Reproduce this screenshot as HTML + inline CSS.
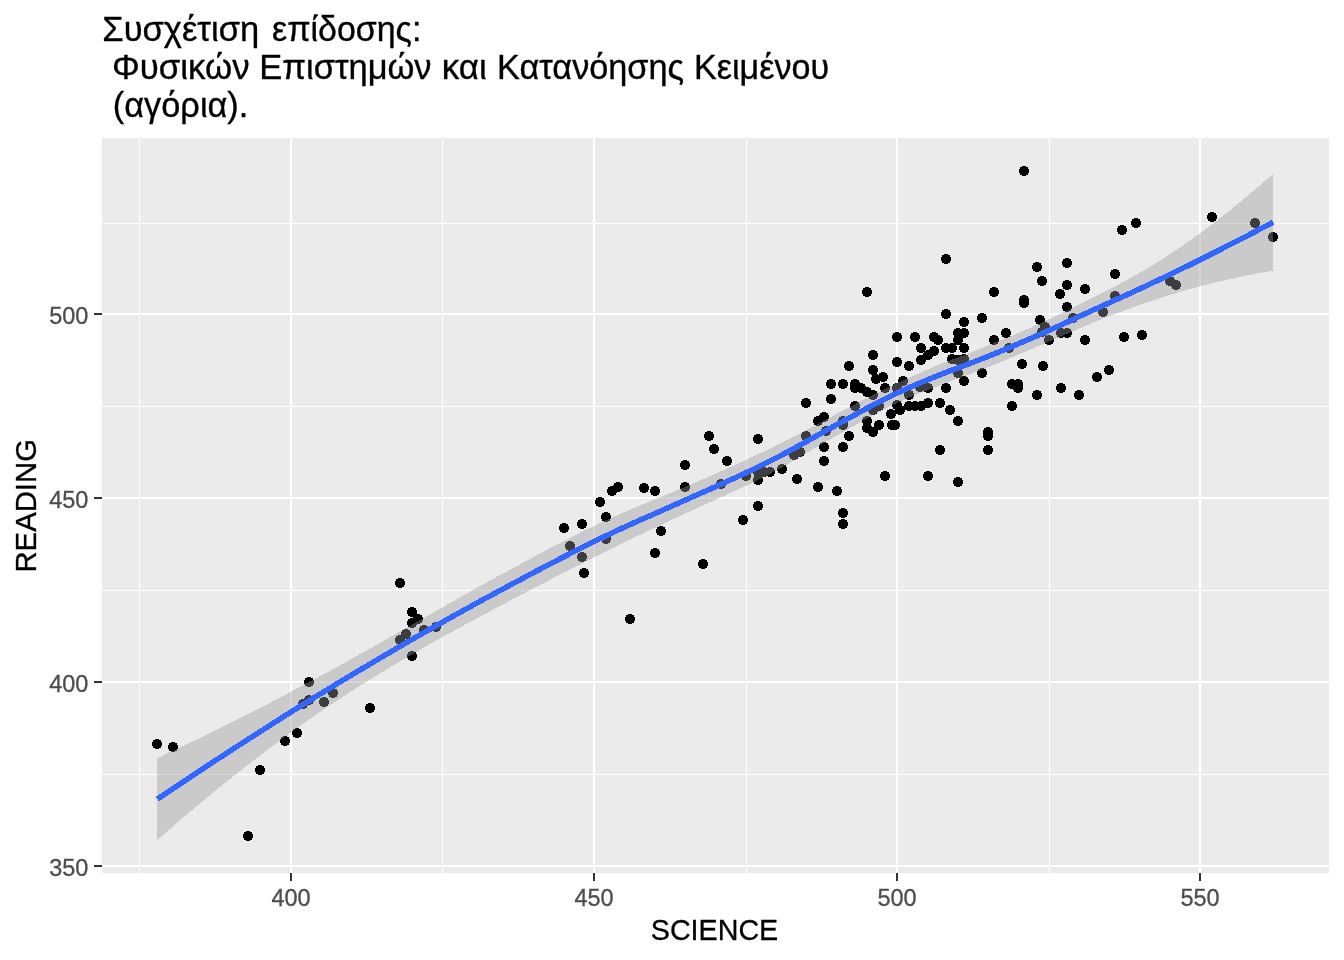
<!DOCTYPE html>
<html lang="el"><head><meta charset="utf-8"><title>Συσχέτιση επίδοσης</title>
<style>
html,body{margin:0;padding:0;background:#fff;}
body{width:1344px;height:960px;overflow:hidden;}
svg{display:block;}
text{font-family:"Liberation Sans",Arial,sans-serif;}
.tk{font-size:23.47px;fill:#4D4D4D;stroke:#4D4D4D;stroke-width:0.3px;}
.ttl{font-size:35.2px;fill:#000;stroke:#000;stroke-width:0.35px;}
.ax{font-size:29.33px;fill:#000;stroke:#000;stroke-width:0.3px;}
</style></head><body>
<svg width="1344" height="960" viewBox="0 0 1344 960">
<rect x="0" y="0" width="1344" height="960" fill="#fff"/>
<g shape-rendering="crispEdges">
<rect x="102" y="138" width="1227" height="735" fill="#EBEBEB"/>
<rect x="102" y="223" width="1227" height="1" fill="#fff"/>
<rect x="102" y="406" width="1227" height="1" fill="#fff"/>
<rect x="102" y="590" width="1227" height="1" fill="#fff"/>
<rect x="102" y="774" width="1227" height="1" fill="#fff"/>
<rect x="139" y="138" width="1" height="735" fill="#fff"/>
<rect x="442" y="138" width="1" height="735" fill="#fff"/>
<rect x="746" y="138" width="1" height="735" fill="#fff"/>
<rect x="1049" y="138" width="1" height="735" fill="#fff"/>
<rect x="102" y="313" width="1227" height="2" fill="#fff"/>
<rect x="102" y="497" width="1227" height="2" fill="#fff"/>
<rect x="102" y="681" width="1227" height="2" fill="#fff"/>
<rect x="102" y="865" width="1227" height="2" fill="#fff"/>
<rect x="290" y="138" width="2" height="735" fill="#fff"/>
<rect x="593" y="138" width="2" height="735" fill="#fff"/>
<rect x="896" y="138" width="2" height="735" fill="#fff"/>
<rect x="1199" y="138" width="2" height="735" fill="#fff"/>
<g fill="#000">
<circle cx="157" cy="744" r="5"/><circle cx="173" cy="747" r="5"/><circle cx="248" cy="836" r="5"/><circle cx="260" cy="770" r="5"/><circle cx="285" cy="741" r="5"/><circle cx="297" cy="733" r="5"/><circle cx="309" cy="682" r="5"/><circle cx="303" cy="704" r="5"/><circle cx="309" cy="700" r="5"/><circle cx="324" cy="702" r="5"/><circle cx="333" cy="693" r="5"/><circle cx="370" cy="708" r="5"/><circle cx="412" cy="656" r="5"/><circle cx="400" cy="640" r="5"/><circle cx="400" cy="583" r="5"/><circle cx="412" cy="612" r="5"/><circle cx="418" cy="619" r="5"/><circle cx="412" cy="623" r="5"/><circle cx="424" cy="630" r="5"/><circle cx="436" cy="627" r="5"/><circle cx="406" cy="634" r="5"/><circle cx="564" cy="528" r="5"/><circle cx="582" cy="524" r="5"/><circle cx="570" cy="546" r="5"/><circle cx="582" cy="557" r="5"/><circle cx="584" cy="573" r="5"/><circle cx="600" cy="502" r="5"/><circle cx="606" cy="517" r="5"/><circle cx="606" cy="539" r="5"/><circle cx="612" cy="491" r="5"/><circle cx="618" cy="487" r="5"/><circle cx="644" cy="488" r="5"/><circle cx="655" cy="491" r="5"/><circle cx="661" cy="531" r="5"/><circle cx="655" cy="553" r="5"/><circle cx="630" cy="619" r="5"/><circle cx="685" cy="487" r="5"/><circle cx="703" cy="564" r="5"/><circle cx="685" cy="465" r="5"/><circle cx="709" cy="436" r="5"/><circle cx="714" cy="449" r="5"/><circle cx="727" cy="461" r="5"/><circle cx="721" cy="484" r="5"/><circle cx="758" cy="439" r="5"/><circle cx="746" cy="476" r="5"/><circle cx="758" cy="480" r="5"/><circle cx="758" cy="472" r="5"/><circle cx="764" cy="472" r="5"/><circle cx="770" cy="472" r="5"/><circle cx="782" cy="469" r="5"/><circle cx="797" cy="479" r="5"/><circle cx="758" cy="506" r="5"/><circle cx="743" cy="520" r="5"/><circle cx="806" cy="403" r="5"/><circle cx="831" cy="384" r="5"/><circle cx="831" cy="399" r="5"/><circle cx="843" cy="384" r="5"/><circle cx="824" cy="417" r="5"/><circle cx="818" cy="421" r="5"/><circle cx="806" cy="436" r="5"/><circle cx="826" cy="431" r="5"/><circle cx="843" cy="421" r="5"/><circle cx="843" cy="425" r="5"/><circle cx="824" cy="447" r="5"/><circle cx="843" cy="447" r="5"/><circle cx="824" cy="461" r="5"/><circle cx="794" cy="455" r="5"/><circle cx="800" cy="452" r="5"/><circle cx="818" cy="487" r="5"/><circle cx="837" cy="491" r="5"/><circle cx="843" cy="513" r="5"/><circle cx="843" cy="524" r="5"/><circle cx="849" cy="436" r="5"/><circle cx="855" cy="406" r="5"/><circle cx="855" cy="384" r="5"/><circle cx="855" cy="388" r="5"/><circle cx="861" cy="388" r="5"/><circle cx="867" cy="392" r="5"/><circle cx="873" cy="395" r="5"/><circle cx="876" cy="379" r="5"/><circle cx="883" cy="377" r="5"/><circle cx="885" cy="388" r="5"/><circle cx="903" cy="381" r="5"/><circle cx="897" cy="388" r="5"/><circle cx="909" cy="395" r="5"/><circle cx="920" cy="387" r="5"/><circle cx="928" cy="388" r="5"/><circle cx="946" cy="388" r="5"/><circle cx="958" cy="373" r="5"/><circle cx="964" cy="381" r="5"/><circle cx="873" cy="410" r="5"/><circle cx="879" cy="406" r="5"/><circle cx="867" cy="421" r="5"/><circle cx="867" cy="428" r="5"/><circle cx="873" cy="432" r="5"/><circle cx="879" cy="425" r="5"/><circle cx="891" cy="414" r="5"/><circle cx="892" cy="425" r="5"/><circle cx="895" cy="425" r="5"/><circle cx="897" cy="405" r="5"/><circle cx="900" cy="410" r="5"/><circle cx="909" cy="406" r="5"/><circle cx="915" cy="406" r="5"/><circle cx="921" cy="406" r="5"/><circle cx="928" cy="403" r="5"/><circle cx="940" cy="403" r="5"/><circle cx="950" cy="410" r="5"/><circle cx="958" cy="421" r="5"/><circle cx="940" cy="450" r="5"/><circle cx="885" cy="476" r="5"/><circle cx="928" cy="476" r="5"/><circle cx="958" cy="482" r="5"/><circle cx="988" cy="450" r="5"/><circle cx="988" cy="432" r="5"/><circle cx="988" cy="436" r="5"/><circle cx="867" cy="292" r="5"/><circle cx="946" cy="314" r="5"/><circle cx="964" cy="322" r="5"/><circle cx="897" cy="337" r="5"/><circle cx="915" cy="337" r="5"/><circle cx="934" cy="337" r="5"/><circle cx="938" cy="340" r="5"/><circle cx="958" cy="333" r="5"/><circle cx="964" cy="333" r="5"/><circle cx="958" cy="340" r="5"/><circle cx="964" cy="348" r="5"/><circle cx="946" cy="348" r="5"/><circle cx="952" cy="348" r="5"/><circle cx="921" cy="348" r="5"/><circle cx="934" cy="351" r="5"/><circle cx="928" cy="355" r="5"/><circle cx="921" cy="360" r="5"/><circle cx="873" cy="355" r="5"/><circle cx="849" cy="366" r="5"/><circle cx="897" cy="362" r="5"/><circle cx="909" cy="366" r="5"/><circle cx="873" cy="370" r="5"/><circle cx="952" cy="359" r="5"/><circle cx="958" cy="360" r="5"/><circle cx="964" cy="359" r="5"/><circle cx="994" cy="292" r="5"/><circle cx="1024" cy="300" r="5"/><circle cx="1024" cy="303" r="5"/><circle cx="1060" cy="294" r="5"/><circle cx="1067" cy="285" r="5"/><circle cx="1085" cy="289" r="5"/><circle cx="1067" cy="307" r="5"/><circle cx="1073" cy="318" r="5"/><circle cx="982" cy="318" r="5"/><circle cx="1006" cy="333" r="5"/><circle cx="994" cy="340" r="5"/><circle cx="1009" cy="348" r="5"/><circle cx="1040" cy="320" r="5"/><circle cx="1045" cy="327" r="5"/><circle cx="1042" cy="332" r="5"/><circle cx="1049" cy="340" r="5"/><circle cx="1061" cy="333" r="5"/><circle cx="1067" cy="333" r="5"/><circle cx="1085" cy="340" r="5"/><circle cx="1022" cy="364" r="5"/><circle cx="1043" cy="366" r="5"/><circle cx="982" cy="373" r="5"/><circle cx="1012" cy="384" r="5"/><circle cx="1018" cy="384" r="5"/><circle cx="1018" cy="388" r="5"/><circle cx="1037" cy="395" r="5"/><circle cx="1012" cy="406" r="5"/><circle cx="1061" cy="388" r="5"/><circle cx="1079" cy="395" r="5"/><circle cx="1097" cy="377" r="5"/><circle cx="1115" cy="274" r="5"/><circle cx="1115" cy="296" r="5"/><circle cx="1103" cy="312" r="5"/><circle cx="1067" cy="263" r="5"/><circle cx="1124" cy="337" r="5"/><circle cx="1142" cy="335" r="5"/><circle cx="1109" cy="370" r="5"/><circle cx="1170" cy="281" r="5"/><circle cx="1176" cy="285" r="5"/><circle cx="1273" cy="237" r="5"/><circle cx="1136" cy="223" r="5"/><circle cx="1122" cy="230" r="5"/><circle cx="1212" cy="217" r="5"/><circle cx="1255" cy="223" r="5"/><circle cx="1024" cy="171" r="5"/><circle cx="946" cy="259" r="5"/><circle cx="1037" cy="267" r="5"/><circle cx="1042" cy="281" r="5"/>
</g>
<polygon points="157.4,758.1 171.5,751.5 185.6,744.8 199.8,738.0 213.9,731.1 228.0,724.1 242.1,717.0 256.3,709.8 270.4,702.6 284.5,695.2 298.6,687.6 312.8,680.1 326.9,672.5 341.0,664.7 355.1,656.9 369.3,649.0 383.4,641.0 397.5,632.9 411.6,624.9 425.8,616.8 439.9,608.8 454.0,600.8 468.1,592.8 482.2,584.9 496.4,577.1 510.5,569.4 524.6,561.8 538.7,554.2 552.9,546.7 567.0,539.4 581.1,532.2 595.2,525.2 609.4,518.7 623.5,512.5 637.6,506.5 651.7,500.7 665.9,494.9 680.0,489.0 694.1,483.1 708.2,477.0 722.3,470.7 736.5,464.3 750.6,457.7 764.7,451.0 778.8,444.2 793.0,437.1 807.1,429.7 821.2,422.2 835.3,414.6 849.5,407.1 863.6,399.8 877.7,392.6 891.8,385.5 906.0,379.1 920.1,372.8 934.2,366.6 948.3,361.0 962.5,355.7 976.6,350.1 990.7,344.4 1004.8,338.8 1018.9,332.8 1033.1,326.6 1047.2,320.1 1061.3,313.4 1075.4,306.5 1089.6,299.3 1103.7,292.2 1117.8,284.9 1131.9,277.2 1146.1,269.1 1160.2,260.4 1174.3,251.2 1188.4,241.5 1202.6,231.3 1216.7,220.6 1230.8,209.5 1244.9,198.0 1259.1,186.1 1273.2,173.7 1273.2,270.7 1259.1,273.2 1244.9,275.9 1230.8,278.9 1216.7,282.1 1202.6,285.7 1188.4,289.5 1174.3,293.6 1160.2,298.1 1146.1,302.8 1131.9,307.7 1117.8,312.9 1103.7,318.3 1089.6,324.1 1075.4,330.2 1061.3,336.3 1047.2,342.4 1033.1,348.3 1018.9,354.3 1004.8,360.4 990.7,366.2 976.6,371.7 962.5,376.8 948.3,382.0 934.2,387.6 920.1,393.0 906.0,398.9 891.8,405.5 877.7,412.6 863.6,420.3 849.5,428.5 835.3,436.4 821.2,444.4 807.1,452.6 793.0,461.0 778.8,469.1 764.7,476.7 750.6,483.6 736.5,490.2 722.3,496.7 708.2,503.0 694.1,509.4 680.0,515.9 665.9,522.5 651.7,529.2 637.6,535.9 623.5,542.7 609.4,549.7 595.2,556.7 581.1,563.8 567.0,571.0 552.9,578.3 538.7,585.6 524.6,593.0 510.5,600.4 496.4,607.9 482.2,615.4 468.1,623.0 454.0,630.7 439.9,638.5 425.8,646.5 411.6,654.6 397.5,662.8 383.4,671.3 369.3,680.0 355.1,688.9 341.0,698.0 326.9,707.4 312.8,717.0 298.6,726.9 284.5,737.1 270.4,747.6 256.3,758.3 242.1,769.3 228.0,780.5 213.9,792.0 199.8,803.7 185.6,815.6 171.5,827.7 157.4,840.1" fill="#999999" fill-opacity="0.4"/>
<polyline points="157.4,799.1 171.5,789.6 185.6,780.2 199.8,770.8 213.9,761.5 228.0,752.3 242.1,743.2 256.3,734.1 270.4,725.1 284.5,716.1 298.6,707.3 312.8,698.5 326.9,689.9 341.0,681.4 355.1,672.9 369.3,664.5 383.4,656.1 397.5,647.9 411.6,639.7 425.8,631.6 439.9,623.6 454.0,615.7 468.1,607.9 482.2,600.1 496.4,592.5 510.5,584.9 524.6,577.4 538.7,569.9 552.9,562.5 567.0,555.2 581.1,548.0 595.2,541.0 609.4,534.2 623.5,527.6 637.6,521.2 651.7,515.0 665.9,508.7 680.0,502.5 694.1,496.2 708.2,490.0 722.3,483.7 736.5,477.2 750.6,470.6 764.7,463.8 778.8,456.6 793.0,449.0 807.1,441.2 821.2,433.3 835.3,425.5 849.5,417.8 863.6,410.1 877.7,402.6 891.8,395.5 906.0,389.0 920.1,382.9 934.2,377.1 948.3,371.5 962.5,366.3 976.6,360.9 990.7,355.3 1004.8,349.6 1018.9,343.5 1033.1,337.5 1047.2,331.2 1061.3,324.9 1075.4,318.3 1089.6,311.7 1103.7,305.3 1117.8,298.9 1131.9,292.5 1146.1,285.9 1160.2,279.2 1174.3,272.4 1188.4,265.5 1202.6,258.5 1216.7,251.4 1230.8,244.2 1244.9,237.0 1259.1,229.6 1273.2,222.2" fill="none" stroke="#3366FF" stroke-width="5.5" stroke-linejoin="round" stroke-linecap="butt"/>
<rect x="94" y="313" width="8" height="2" fill="#333"/>
<rect x="94" y="497" width="8" height="2" fill="#333"/>
<rect x="94" y="681" width="8" height="2" fill="#333"/>
<rect x="94" y="865" width="8" height="2" fill="#333"/>
<rect x="290" y="873" width="2" height="8" fill="#333"/>
<rect x="593" y="873" width="2" height="8" fill="#333"/>
<rect x="896" y="873" width="2" height="8" fill="#333"/>
<rect x="1199" y="873" width="2" height="8" fill="#333"/>
</g>
<text class="tk" x="88.3" y="323.8" text-anchor="end">500</text>
<text class="tk" x="88.3" y="507.8" text-anchor="end">450</text>
<text class="tk" x="88.3" y="691.8" text-anchor="end">400</text>
<text class="tk" x="88.3" y="875.8" text-anchor="end">350</text>
<text class="tk" x="291" y="905.7" text-anchor="middle">400</text>
<text class="tk" x="594" y="905.7" text-anchor="middle">450</text>
<text class="tk" x="897" y="905.7" text-anchor="middle">500</text>
<text class="tk" x="1200" y="905.7" text-anchor="middle">550</text>
<text class="ax" transform="translate(714.5,939.6) scale(0.978,1)" text-anchor="middle">SCIENCE</text>
<text class="ax" transform="translate(36.4,505.8) rotate(-90)" text-anchor="middle">READING</text>
<text class="ttl" transform="translate(102.29,40.9) scale(0.9808,1)">Συσχέτιση</text>
<text class="ttl" transform="translate(272.04,40.9) scale(0.9636,1)">επίδοσης:</text>
<text class="ttl" transform="translate(112.02,78.9) scale(0.9890,1)">Φυσικών</text>
<text class="ttl" transform="translate(259.32,78.9) scale(0.9782,1)">Επιστημών</text>
<text class="ttl" transform="translate(441.76,78.9) scale(0.9940,1)">και</text>
<text class="ttl" transform="translate(497.08,78.9) scale(0.9734,1)">Κατανόησης</text>
<text class="ttl" transform="translate(694.09,78.9) scale(0.9689,1)">Κειμένου</text>
<text class="ttl" transform="translate(112.80,116.8) scale(0.9757,1)">(αγόρια).</text>
</svg>
</body></html>
